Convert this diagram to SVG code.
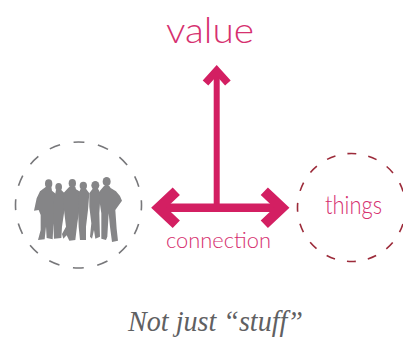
<svg xmlns="http://www.w3.org/2000/svg" width="403" height="338" viewBox="0 0 403 338">
<style>
.lbl{font-family:"Lato","Liberation Sans",sans-serif;font-weight:300;fill:#d6306f}
.ring{fill:none;stroke-width:1.6}
.arrow{fill:none;stroke:#d31f62;stroke-linejoin:miter}
</style>
<defs><filter id="soft" x="-5%" y="-5%" width="110%" height="110%"><feGaussianBlur stdDeviation="0.6"/></filter></defs>
<rect width="403" height="338" fill="#ffffff"/>
<g id="people">
<circle class="ring" cx="78.5" cy="205" r="63" stroke="#77777a" stroke-dasharray="11 13.74" stroke-dashoffset="5.5"/>
<g transform="translate(0,130) scale(0.3333)" fill="#858587" filter="url(#soft)">
<ellipse cx="146" cy="161" rx="11" ry="13"/><ellipse cx="176" cy="171" rx="10" ry="12"/><ellipse cx="217" cy="160" rx="11" ry="13"/><ellipse cx="250" cy="167" rx="11" ry="12"/><ellipse cx="286" cy="166" rx="12" ry="13"/><ellipse cx="320" cy="155" rx="12" ry="14"/>
<path d="M138 170L154 170L156 182L168 192L164 270L160 290L158 328L140 324L138 290L134 328L114 330L122 300L122 255L116 240L102 242L110 205L120 184Z"/>
<path d="M168 180L184 180L196 192L192 250L186 290L184 324L162 326L160 280L160 220Z"/>
<path d="M208 170L226 170L228 178L242 186L238 240L232 280L226 330L208 332L200 316L190 326L186 312L198 290L192 240L190 190Z"/>
<path d="M242 176L258 176L268 190L264 240L258 290L258 330L240 330L236 290L234 230L236 190Z"/>
<path d="M278 176L294 176L302 190L298 250L300 320L286 326L282 300L276 326L270 320L274 280L268 230L268 190Z"/>
<path d="M312 168L328 168L332 174L348 184L360 198L366 212L346 240L350 296L354 332L336 336L330 290L326 250L322 320L318 330L304 326L304 250L298 210L300 182Z"/>
</g>
</g>
<g id="things">
<circle class="ring" cx="351.500" cy="207.500" r="54" stroke="#9c2b3a" stroke-dasharray="9 12.2" stroke-dashoffset="4.5"/>
<text class="lbl" x="325" y="214" font-size="24.5" textLength="57" lengthAdjust="spacingAndGlyphs">things</text>
</g>
<g id="connectors">
<path class="arrow" stroke-width="6" d="M216.700 208V70"/>
<path class="arrow" stroke-width="7.500" d="M205.500 83L216.700 70.500L227.900 83"/>
<path class="arrow" stroke-width="8.500" d="M160 207.700H280"/>
<path class="arrow" stroke-width="10.500" d="M176.300 191.200L158.800 207.700L176.300 224.200M264.300 191.200L281.800 207.700L264.300 224.200"/>
</g>
<text id="value" class="lbl" x="166" y="43" font-size="36" textLength="88" lengthAdjust="spacingAndGlyphs">value</text>
<text id="connection" class="lbl" x="166" y="248" font-size="21" textLength="105" lengthAdjust="spacingAndGlyphs">connection</text>
<text id="caption" x="128" y="331" font-family="'Liberation Serif',serif" font-style="italic" font-size="28.5" fill="#5f6062" textLength="175" lengthAdjust="spacingAndGlyphs">Not just “stuff”</text>
</svg>
